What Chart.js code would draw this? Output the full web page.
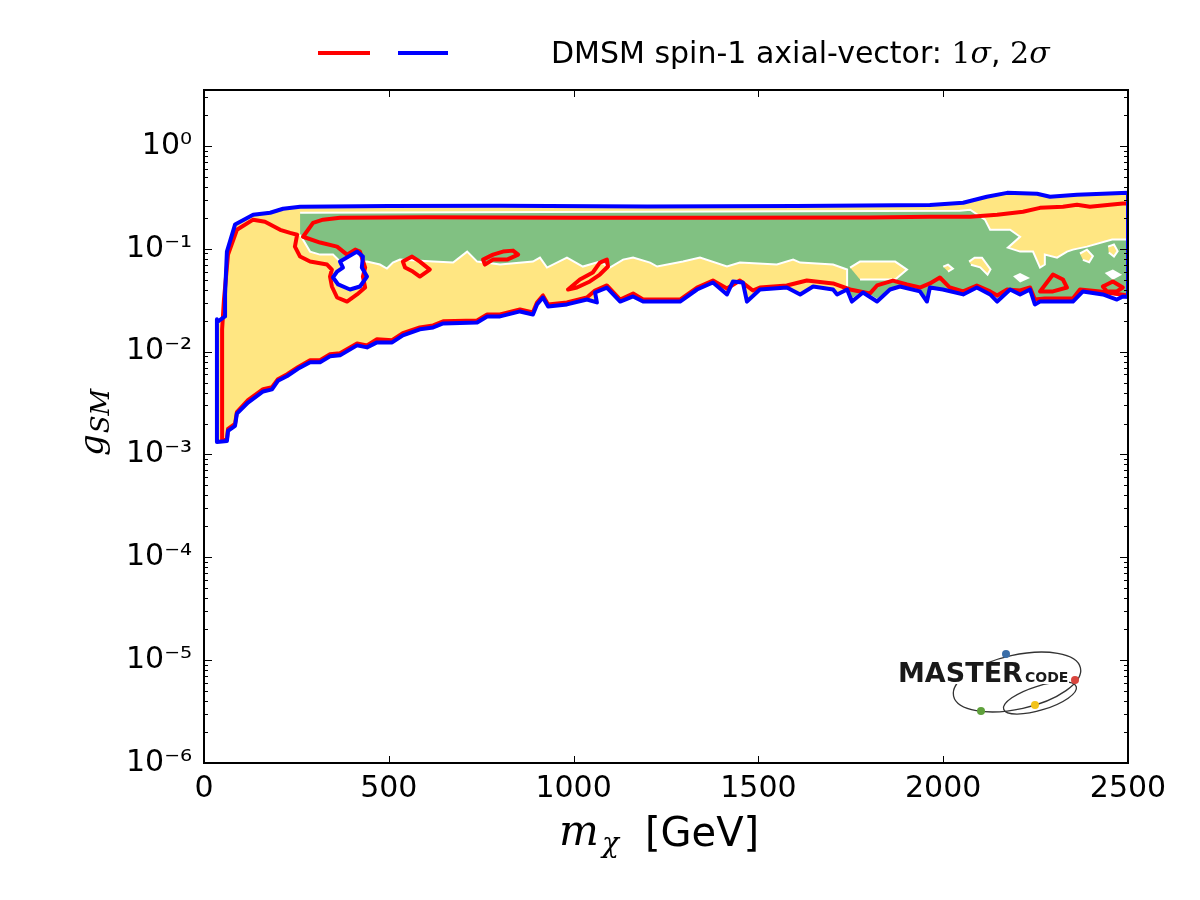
<!DOCTYPE html>
<html>
<head>
<meta charset="utf-8">
<script src="https://cdn.jsdelivr.net/npm/chart.js@4.4.0/dist/chart.umd.min.js"></script>
<style>
  html, body { margin: 0; background: #fff; }
  canvas { display: block; }
</style>
</head>
<body>
<canvas id="chart" width="1200" height="900"></canvas>
<script>
/* DMSM spin-1 axial-vector: 1σ / 2σ regions in the (m_χ, g_SM) plane.
   Contours, [m_chi GeV, g_SM]. */

const xTicks = [0, 500, 1000, 1500, 2000, 2500];
const yTickLabels = ['10⁻⁶', '10⁻⁵', '10⁻⁴', '10⁻³', '10⁻²', '10⁻¹', '10⁰'];

// 2σ outer contour (blue), also the yellow fill
const sigma2Outer = [
  [35,0.00132],[35,0.0206],[38,0.0197],[57,0.022],[57,0.036],[62,0.094],[84,0.172],[133,0.214],
  [179,0.224],[214,0.245],[260,0.256],[500,0.26],[800,0.262],[1200,0.258],[1600,0.26],[1964,0.266],
  [2054,0.28],[2118,0.321],[2173,0.35],[2254,0.343],[2289,0.321],[2362,0.335],[2432,0.343],[2500,0.35],
  [2500,0.034],[2486,0.0344],[2470,0.0321],[2432,0.036],[2378,0.0385],[2351,0.0307],[2262,0.0307],
  [2248,0.0288],[2235,0.0402],[2208,0.036],[2181,0.0402],[2146,0.0307],[2127,0.036],[2091,0.042],
  [2054,0.036],[1999,0.0402],[1964,0.042],[1956,0.0307],[1937,0.0385],[1883,0.043],[1856,0.0402],
  [1821,0.0307],[1783,0.0376],[1753,0.0307],[1740,0.0402],[1713,0.036],[1702,0.0402],[1648,0.043],
  [1613,0.036],[1577,0.042],[1504,0.0402],[1469,0.0307],[1458,0.047],[1431,0.0481],[1415,0.036],
  [1377,0.047],[1334,0.0402],[1288,0.0307],[1188,0.0307],[1161,0.0344],[1126,0.0307],[1090,0.042],
  [1058,0.0376],[1063,0.0301],[1036,0.0321],[982,0.0288],[931,0.0275],[917,0.0336],[901,0.0288],
  [890,0.023],[855,0.0246],[801,0.022],[766,0.022],[739,0.0192],[647,0.0188],[620,0.0172],[584,0.0165],
  [538,0.0144],[509,0.0123],[468,0.0123],[441,0.011],[414,0.0115],[368,0.0092],[341,0.009],[314,0.0079],
  [287,0.0079],[254,0.0068],[225,0.0058],[200,0.0052],[184,0.0043],[160,0.0041],[119,0.0032],[89,0.0025],
  [84,0.0019],[65,0.0017],[62,0.00135],[35,0.00132]
];

// hole inside the 2σ region (blue island)
const sigma2Hole = [
  [368,0.0751],[414,0.0939],[430,0.084],[427,0.0657],[441,0.0537],[422,0.043],[395,0.0402],
  [363,0.045],[349,0.0526],[360,0.0601],[376,0.0657],[368,0.0751]
];

// 1σ contour (red), main curve
const sigma1Outer = [
  [49,0.00138],[49,0.0165],[54,0.032],[65,0.0878],[89,0.153],[133,0.192],[165,0.183],[206,0.153],
  [233,0.143],[252,0.137],[246,0.105],[260,0.084],[287,0.0751],[333,0.0703],[346,0.0628],[341,0.0537],
  [346,0.043],[360,0.0336],[387,0.0307],[414,0.036],[436,0.042],[430,0.0537],[436,0.0657],[422,0.0939],
  [409,0.0982],[387,0.0878],[360,0.105],[314,0.115],[268,0.131],[295,0.179],[322,0.192],[368,0.2],
  [600,0.203],[1000,0.2],[1400,0.2],[1800,0.201],[1964,0.205],[2073,0.205],[2146,0.214],[2216,0.229],
  [2262,0.25],[2324,0.256],[2362,0.268],[2397,0.256],[2451,0.268],[2486,0.275],[2500,0.275],
  [2500,0.0352],[2424,0.0385],[2370,0.0402],[2351,0.0329],[2275,0.0329],[2248,0.0321],[2235,0.042],
  [2208,0.0393],[2173,0.0402],[2146,0.0352],[2127,0.0385],[2091,0.044],[2054,0.0385],[2018,0.042],
  [1991,0.0526],[1964,0.046],[1937,0.042],[1902,0.045],[1864,0.0491],[1821,0.044],[1802,0.0368],
  [1748,0.0402],[1702,0.046],[1631,0.0491],[1577,0.044],[1504,0.042],[1485,0.0393],[1450,0.0491],
  [1415,0.0411],[1377,0.0491],[1334,0.042],[1288,0.0321],[1188,0.0321],[1161,0.0368],[1126,0.0321],
  [1090,0.044],[1058,0.0393],[1036,0.0336],[982,0.0301],[931,0.0288],[917,0.0352],[901,0.0301],
  [890,0.0241],[855,0.0257],[801,0.023],[766,0.023],[739,0.0201],[647,0.0197],[620,0.018],[584,0.0172],
  [538,0.0151],[509,0.0129],[468,0.0132],[441,0.0115],[414,0.012],[368,0.00964],[341,0.00942],
  [314,0.00824],[287,0.00824],[254,0.00705],[225,0.00603],[200,0.0054],[184,0.00451],[160,0.00432],
  [119,0.00337],[89,0.00258],[84,0.00198],[65,0.00177],[62,0.00141],[49,0.00138]
];

// small 1σ islands (red)
const sigma1Islands = [
  [[538,0.0751],[563,0.084],[584,0.0751],[611,0.0628],[584,0.0537],[565,0.0601],[544,0.0657],[538,0.0751]],
  [[755,0.0785],[782,0.0878],[809,0.0939],[836,0.096],[850,0.0878],[820,0.0785],[782,0.0785],[760,0.0703],[755,0.0785]],
  [[985,0.0402],[1017,0.0503],[1052,0.0588],[1071,0.0734],[1090,0.0785],[1093,0.0672],[1071,0.0562],[1044,0.0481],[1009,0.042],[985,0.0402]],
  [[2262,0.0385],[2297,0.0562],[2324,0.0503],[2335,0.042],[2297,0.0385],[2262,0.0385]],
  [[2432,0.043],[2459,0.0481],[2486,0.042],[2470,0.0385],[2443,0.0385],[2432,0.043]]
];

// green (68% CL) filled region
const greenRegion = [
  [260,0.224],[2045,0.234],[2073,0.24],[2113,0.192],[2127,0.153],[2181,0.153],[2208,0.131],[2175,0.1026],
  [2208,0.0939],[2243,0.0939],[2262,0.0657],[2275,0.0703],[2275,0.0878],[2308,0.0821],[2335,0.0939],
  [2351,0.0982],[2389,0.105],[2457,0.123],[2500,0.123],[2500,0.035],[2470,0.034],[2432,0.037],[2378,0.039],
  [2351,0.032],[2262,0.032],[2248,0.03],[2235,0.04],[2208,0.037],[2181,0.04],[2146,0.032],[2127,0.037],
  [2091,0.042],[2054,0.037],[1999,0.04],[1964,0.042],[1956,0.032],[1937,0.039],[1883,0.043],[1856,0.04],
  [1821,0.032],[1783,0.038],[1753,0.032],[1740,0.04],[1740,0.0628],[1702,0.0703],[1613,0.0734],
  [1594,0.0785],[1550,0.0703],[1450,0.0734],[1415,0.0672],[1342,0.0821],[1296,0.0751],[1226,0.0672],
  [1207,0.0734],[1161,0.0821],[1134,0.0785],[1098,0.0657],[1071,0.0751],[1025,0.0672],[982,0.0821],
  [928,0.0657],[909,0.0821],[890,0.0751],[801,0.0703],[739,0.0751],[712,0.0939],[674,0.0734],[620,0.0751],
  [530,0.0785],[511,0.0734],[495,0.0643],[476,0.0703],[441,0.0751],[376,0.0703],[349,0.0878],[314,0.0878],
  [287,0.0939],[260,0.137]
];

// yellow patches sitting inside the green area
const yellowPatches = [
  [[1748,0.0657],[1775,0.0751],[1870,0.0751],[1902,0.0628],[1870,0.0503],[1775,0.0503]],
  [[2070,0.075],[2085,0.082],[2105,0.082],[2128,0.063],[2120,0.056],[2100,0.066],[2075,0.07]],
  [[2370,0.09],[2389,0.098],[2405,0.085],[2395,0.074],[2378,0.078]],
  [[2446,0.105],[2462,0.11],[2472,0.095],[2462,0.084],[2448,0.092]],
  [[2000,0.067],[2013,0.07],[2026,0.064],[2013,0.06]]
];

// empty cells
const whitePatches = [
  [[2189,0.054],[2208,0.058],[2235,0.052],[2208,0.047]],
  [[2437,0.058],[2459,0.063],[2484,0.056],[2459,0.05]]
];

const YELLOW = '#FFE682';
const GREEN = '#81C182';
const RED = '#FF0000';
const BLUE = '#0000FF';

const pts = arr => arr.map(([x, y]) => ({ x, y }));

function area(data, color, order, border = 'rgba(0,0,0,0)', bw = 0) {
  return {
    data: pts(data), showLine: true, fill: 'shape', backgroundColor: color,
    borderColor: border, borderWidth: bw, pointRadius: 0, order
  };
}

function contour(data, color, order) {
  return {
    data: pts(data), showLine: true, fill: false, borderColor: color, borderWidth: 4,
    borderJoinStyle: 'round', borderCapStyle: 'round', pointRadius: 0, order
  };
}

const datasets = [
  area(sigma2Outer, YELLOW, 20),
  area(greenRegion, GREEN, 19, '#fff', 2),
  ...yellowPatches.map(p => area(p, YELLOW, 18, '#fff', 2)),
  ...whitePatches.map(p => area(p, '#fff', 17)),
  area(sigma2Hole, '#fff', 16),
  contour(sigma1Outer, RED, 5),
  ...sigma1Islands.map(p => contour(p, RED, 4)),
  contour(sigma2Outer, BLUE, 2),
  contour(sigma2Hole, BLUE, 1),
];

function isDecade(v) {
  const e = Math.log10(v);
  return Math.abs(e - Math.round(e)) < 1e-6;
}

// inward ticks on all four sides + black frame + logo
const frame = {
  id: 'frame',
  afterDatasetsDraw(chart) {
    const { ctx, chartArea: a, scales: { x, y } } = chart;
    ctx.save();
    ctx.strokeStyle = '#000';
    ctx.lineWidth = 1;
    ctx.beginPath();
    x.ticks.forEach(t => {
      const px = Math.round(x.getPixelForValue(t.value)) + 0.5;
      ctx.moveTo(px, a.bottom); ctx.lineTo(px, a.bottom - 7);
      ctx.moveTo(px, a.top); ctx.lineTo(px, a.top + 7);
    });
    y.ticks.forEach(t => {
      const e = Math.floor(Math.log10(t.value) + 1e-9);
      const m = t.value / Math.pow(10, e);
      if (Math.abs(m - Math.round(m)) > 1e-6) return;
      const len = isDecade(t.value) ? 8 : 4;
      const py = Math.round(y.getPixelForValue(t.value)) + 0.5;
      ctx.moveTo(a.left, py); ctx.lineTo(a.left + len, py);
      ctx.moveTo(a.right, py); ctx.lineTo(a.right - len, py);
    });
    ctx.stroke();
    ctx.lineWidth = 2;
    ctx.strokeRect(a.left, a.top, a.right - a.left, a.bottom - a.top);

    // MasterCode logo
    ctx.strokeStyle = '#333';
    ctx.lineWidth = 1.3;
    ctx.beginPath();
    ctx.ellipse(1017, 682, 65, 27, -0.22, 0, Math.PI * 2);
    ctx.stroke();
    ctx.beginPath();
    ctx.ellipse(1040, 698, 38, 12, -0.3, 0, Math.PI * 2);
    ctx.stroke();
    ctx.fillStyle = '#fff';
    ctx.fillRect(897, 662, 172, 22);
    ctx.fillStyle = '#1a1a1a';
    ctx.font = 'bold 27px "DejaVu Sans"';
    ctx.textBaseline = 'alphabetic';
    ctx.textAlign = 'left';
    ctx.fillText('MASTER', 898, 682);
    ctx.font = 'bold 14px "DejaVu Sans"';
    ctx.fillText('CODE', 1025, 682);
    [[1006, 654, '#3b6ea8'], [1075, 680, '#d8453d'], [1035, 705, '#f2c31b'], [981, 711, '#5fa13c']]
      .forEach(([cx, cy, c]) => {
        ctx.fillStyle = c;
        ctx.beginPath(); ctx.arc(cx, cy, 4, 0, Math.PI * 2); ctx.fill();
      });
    ctx.restore();
  },

  // legend and axis titles
  afterDraw(chart) {
    const { ctx } = chart;
    ctx.save();
    ctx.lineWidth = 4;
    ctx.strokeStyle = RED;
    ctx.beginPath(); ctx.moveTo(318, 53); ctx.lineTo(370, 53); ctx.stroke();
    ctx.strokeStyle = BLUE;
    ctx.beginPath(); ctx.moveTo(398, 53); ctx.lineTo(448, 53); ctx.stroke();

    ctx.fillStyle = '#000';
    ctx.textBaseline = 'alphabetic';
    ctx.textAlign = 'left';
    let cx = 551;
    const part = (txt, font, dy = 0) => {
      ctx.font = font;
      ctx.fillText(txt, cx, 63 + dy);
      cx += ctx.measureText(txt).width;
    };
    part('DMSM spin-1 axial-vector: ', '30px "DejaVu Sans"');
    part('1', '30px "DejaVu Serif"');
    part('σ', 'italic 30px "DejaVu Serif"');
    part(', ', '30px "DejaVu Sans"');
    part('2', '30px "DejaVu Serif"');
    part('σ', 'italic 30px "DejaVu Serif"');

    // x title: m_χ [GeV]
    ctx.font = 'italic 42px "DejaVu Serif"';
    ctx.fillText('m', 559, 845);
    ctx.font = 'italic 28px "DejaVu Serif"';
    ctx.fillText('χ', 602, 852);
    ctx.font = '40px "DejaVu Sans"';
    ctx.fillText('[GeV]', 645, 846);

    // y title: g_SM
    ctx.translate(103, 456);
    ctx.rotate(-Math.PI / 2);
    ctx.font = 'italic 34px "DejaVu Serif"';
    ctx.fillText('g', 0, 0);
    const gw = ctx.measureText('g').width;
    ctx.font = 'italic 26px "DejaVu Serif"';
    ctx.fillText('SM', gw + 1, 6);
    ctx.restore();
  }
};

new Chart(document.getElementById('chart'), {
  type: 'scatter',
  data: { datasets },
  options: {
    responsive: false,
    animation: false,
    events: [],
    layout: { padding: { left: 0, top: 90, right: 72, bottom: 0 } },
    plugins: { legend: { display: false }, tooltip: { enabled: false } },
    scales: {
      x: {
        type: 'linear', min: 0, max: 2500,
        border: { display: false },
        grid: { display: false, drawTicks: false },
        afterBuildTicks: s => { s.ticks = xTicks.map(v => ({ value: v })); },
        afterFit: s => { s.height = 137; },
        ticks: {
          color: '#000', padding: 8, maxRotation: 0,
          font: { family: 'DejaVu Sans', size: 30 },
          callback: v => String(v)
        }
      },
      y: {
        type: 'logarithmic', min: 1e-6, max: 3.5,
        border: { display: false },
        grid: { display: false, drawTicks: false },
        afterFit: s => { s.width = 204; },
        ticks: {
          color: '#000', padding: 12, autoSkip: false,
          font: { family: 'DejaVu Sans', size: 30 },
          callback: v => isDecade(v) ? yTickLabels[Math.round(Math.log10(v)) + 6] : ''
        }
      }
    }
  },
  plugins: [frame]
});
</script>
</body>
</html>
